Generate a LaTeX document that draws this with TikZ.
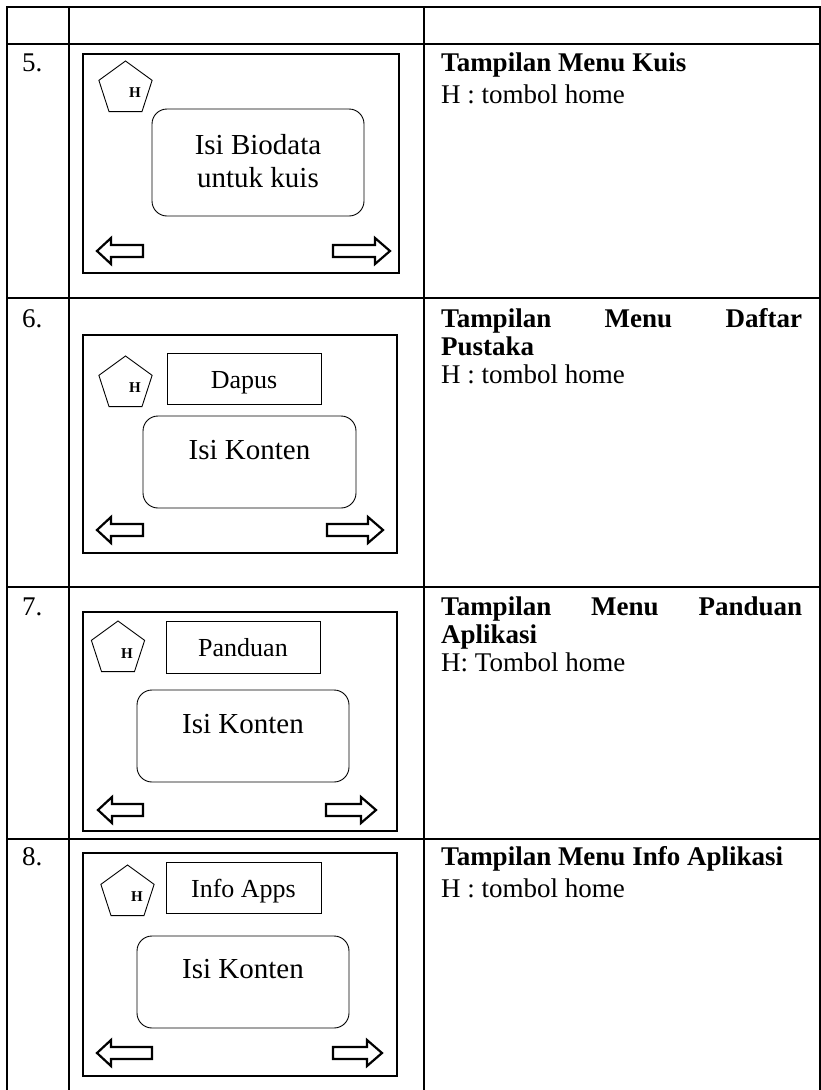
\documentclass[tikz,border=0pt]{standalone}
\usepackage{fontspec}
\setmainfont{Liberation Serif}
\usetikzlibrary{shapes.geometric}
\newcommand\lblk[4]{% x1 x2 yc name
  \draw[blk] (#1,#3) -- (#1+14,#3-13) -- (#1+14,#3-6) -- (#2,#3-6) -- (#2,#3+6) -- (#1+14,#3+6) -- (#1+14,#3+13) -- cycle;}
\newcommand\rblk[3]{% x1 x2 yc
  \draw[blk] (#2,#3) -- (#2-15,#3-13) -- (#2-15,#3-6) -- (#1,#3-6) -- (#1,#3+6) -- (#2-15,#3+6) -- (#2-15,#3+13) -- cycle;}
\begin{document}
\begin{tikzpicture}[x=1pt,y=-1pt,
  tbl/.style={line width=2pt},
  scr/.style={draw,line width=2.6pt},
  blk/.style={draw,line width=2.2pt,line join=miter,fill=white},
  penta/.style={draw,line width=0.9pt,regular polygon,regular polygon sides=5,minimum size=56pt,inner sep=0pt},
  hlbl/.style={font=\fontsize{15}{15}\selectfont\bfseries,inner sep=0pt},
  tbox/.style={draw,line width=0.9pt,inner sep=0pt},
  cbox/.style={draw,line width=0.9pt,rounded corners=15pt,inner sep=0pt},
  big/.style={font=\fontsize{29}{33}\selectfont,inner sep=0pt,anchor=base},
  ttl/.style={font=\fontsize{26}{30}\selectfont,inner sep=0pt,anchor=base},
  rt/.style={font=\fontsize{27}{32}\selectfont,inner sep=0pt,anchor=base west},
  rb/.style={font=\fontsize{27}{32}\selectfont\bfseries,inner sep=0pt,anchor=base west},
]
\useasboundingbox (0,0) rectangle (821,1090);
% table grid
\draw[tbl] (7,1090) -- (7,7) -- (820,7) -- (820,1090);
\draw[tbl] (69,7) -- (69,1090);
\draw[tbl] (424,7) -- (424,1090);
\foreach \yy in {44,298,587,839} \draw[tbl] (7,\yy) -- (820,\yy);

% ---------- row 5
\node[rt] (n5) at (22,71) {5.};
\draw[scr] (83,54) rectangle (399,273);
\node[penta] (p5) at (125.5,89) {};
\node[hlbl] (h5) at (135,93) {H};
\node[cbox,minimum width=212pt,minimum height=107pt] (c5) at (258,162.5) {};
\node[big] (c5a) at (258,154) {Isi Biodata};
\node[big] (c5b) at (258,187) {untuk kuis};
\lblk{97}{143}{251}{}
\rblk{333}{390}{251}
\node[rb] (t5) at (441,71) {Tampilan Menu Kuis};
\node[rt] (d5) at (441,103) {H : tombol home};

% ---------- row 6
\node[rt] (n6) at (22,327) {6.};
\draw[scr] (83,335) rectangle (397,553);
\node[penta] (p6) at (125.5,384) {};
\node[hlbl] (h6) at (135,388) {H};
\node[tbox,minimum width=154pt,minimum height=51pt] (b6) at (244,378.5) {};
\node[ttl] (b6t) at (244,388) {Dapus};
\node[cbox,minimum width=213pt,minimum height=92pt] (c6) at (249.5,462) {};
\node[big] (c6t) at (249.5,459) {Isi Konten};
\lblk{97}{143}{530}{}
\rblk{327}{383}{530}
\node[rb] (t6) at (441,327) {\hbox to 361pt{Tampilan\hfill Menu\hfill Daftar}};
\node[rb] (t6b) at (441,355) {Pustaka};
\node[rt] (d6) at (441,383) {H : tombol home};

% ---------- row 7
\node[rt] (n7) at (22,615) {7.};
\draw[scr] (83,612) rectangle (397,831);
\node[penta] (p7) at (118,649) {};
\node[hlbl] (h7) at (127,654) {H};
\node[tbox,minimum width=154pt,minimum height=52pt] (b7) at (243,647) {};
\node[ttl] (b7t) at (243,656) {Panduan};
\node[cbox,minimum width=212pt,minimum height=92pt] (c7) at (243,736) {};
\node[big] (c7t) at (243,733) {Isi Konten};
\lblk{98}{143}{810}{}
\rblk{326}{376}{810}
\node[rb] (t7) at (441,615) {\hbox to 361pt{Tampilan\hfill Menu\hfill Panduan}};
\node[rb] (t7b) at (441,643) {Aplikasi};
\node[rt] (d7) at (441,671) {H: Tombol home};

% ---------- row 8
\node[rt] (n8) at (22,865) {8.};
\draw[scr] (83,853) rectangle (397,1076);
\node[penta] (p8) at (127.5,893) {};
\node[hlbl] (h8) at (137,897) {H};
\node[tbox,minimum width=155pt,minimum height=51pt] (b8) at (243.5,887.5) {};
\node[ttl] (b8t) at (243.5,897) {Info Apps};
\node[cbox,minimum width=212pt,minimum height=92pt] (c8) at (243,982) {};
\node[big] (c8t) at (243,978) {Isi Konten};
\lblk{97}{152}{1053}{}
\rblk{333}{382}{1053}
\node[rb] (t8) at (441,865) {Tampilan Menu Info Aplikasi};
\node[rt] (d8) at (441,897) {H : tombol home};
\end{tikzpicture}
\end{document}
